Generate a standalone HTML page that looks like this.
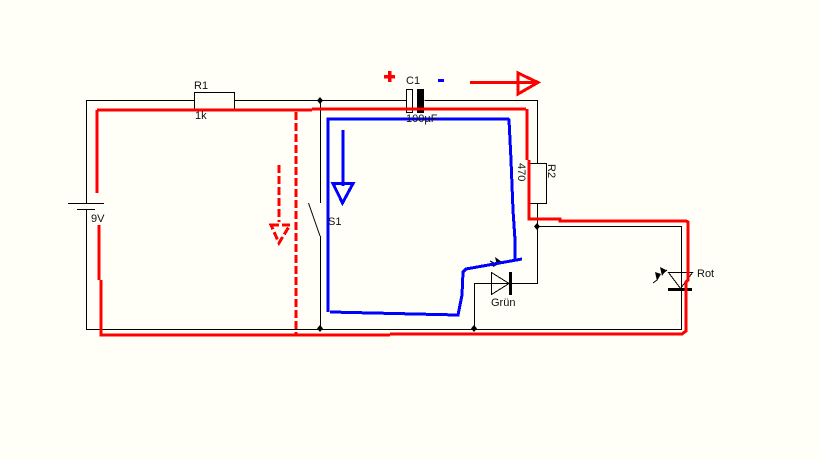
<!DOCTYPE html>
<html><head><meta charset="utf-8"><style>
html,body{margin:0;padding:0;background:#fffff7}
svg{display:block;width:819px;height:460px}
text{font-family:"Liberation Sans",sans-serif;font-size:11px;fill:#111}
</style></head><body>
<svg xmlns="http://www.w3.org/2000/svg" width="819" height="460" viewBox="0 0 819 460" shape-rendering="crispEdges">
<rect width="819" height="460" fill="#fffff7"/>
<g fill="none" stroke="#000" stroke-width="1">
<path d="M194.5 100.5H86.5V203.5M86.5 209.5V329.5H681.5V226.5H537.5"/>
<path d="M234.5 100.5H406.5M424.5 100.5H537.5V163.5M537.5 203.5V283.5H509.5M509.5 283.5H474.5V329.5"/>
<path d="M68 203.5H104M77 209.5H95"/>
<rect x="194.5" y="92.5" width="40" height="18"/>
<rect x="406.5" y="89.5" width="6" height="23"/>
<rect x="529.5" y="163.5" width="17" height="40"/>
<path d="M320.5 100.5V203M320.500 236V329.500"/>
<path d="M491.5 272.5V294.5L509 283.5Z"/>
<path d="M668.5 272.5H692.5L680.5 288.5Z"/>
<g shape-rendering="auto"><path d="M308.5 203L320 236"/></g>
</g>
<rect x="417" y="89" width="7" height="24" fill="#000"/>
<rect x="509" y="272" width="3" height="23" fill="#000"/>
<rect x="668" y="288" width="24" height="3" fill="#000"/>
<g fill="#000" shape-rendering="auto">
<path d="M320 97L323 100.500L320 104L317 100.500Z"/>
<path d="M320 325L323 328.500L320 332L317 328.500Z"/>
<path d="M474 325L477 328.500L474 332L471 328.500Z"/>
<path d="M537 223L540 226.500L537 230L534 226.500Z"/>
<path d="M655 272L661 274L657 281ZM660 267L666 270L662 276Z"/>
<path d="M495 257L502 262L497 265Z"/>
<path d="M491 261L497 265L493 267Z"/>
</g>
<g stroke="#000" stroke-width="1" shape-rendering="auto"><path d="M657 280L653 283M662 274L667 270M490 261L494 263"/></g>
<g fill="none" stroke="#f00" stroke-width="3">
<path d="M97 110H312M312 109H526M97 110V193M99 225V280M101 280V335H390M390 334H682L686 331V282L688 280V222L686 221H560V219H529V160M527 160V109"/>
<path d="M470 82.500H535M518 74V91M518 73L538 82.500L518 94Z"/>
</g>
<path d="M384 76.500H395M389.500 71V82" fill="none" stroke="#f00" stroke-width="3.500"/>
<g fill="none" stroke="#f00" stroke-width="3" stroke-dasharray="8 3">
<path d="M296 112V335"/>
<path d="M279 165V222"/>
<path d="M271 225H290L279 243Z"/>
</g>
<g fill="none" stroke="#00f" stroke-width="3">
<path d="M328 312V119H508L509 120L511 160L513 210L515 240V259M522 259L466 269L463 272L462 295L458 315L330 312"/>
<path d="M343 130V186M333 183.500H353L342.500 203Z"/>
</g>
<rect x="438" y="79" width="6" height="3" fill="#00f"/>
<text x="194" y="89">R1</text>
<text x="195" y="119">1k</text>
<text x="406" y="84">C1</text>
<text x="406" y="122">100µF</text>
<text x="91" y="222">9V</text>
<text x="328" y="225">S1</text>
<text x="491" y="306">Grün</text>
<text x="697" y="277">Rot</text>
<text transform="translate(548 164) rotate(90)">R2</text>
<text transform="translate(518 163) rotate(90)">470</text>
</svg>
</body></html>
